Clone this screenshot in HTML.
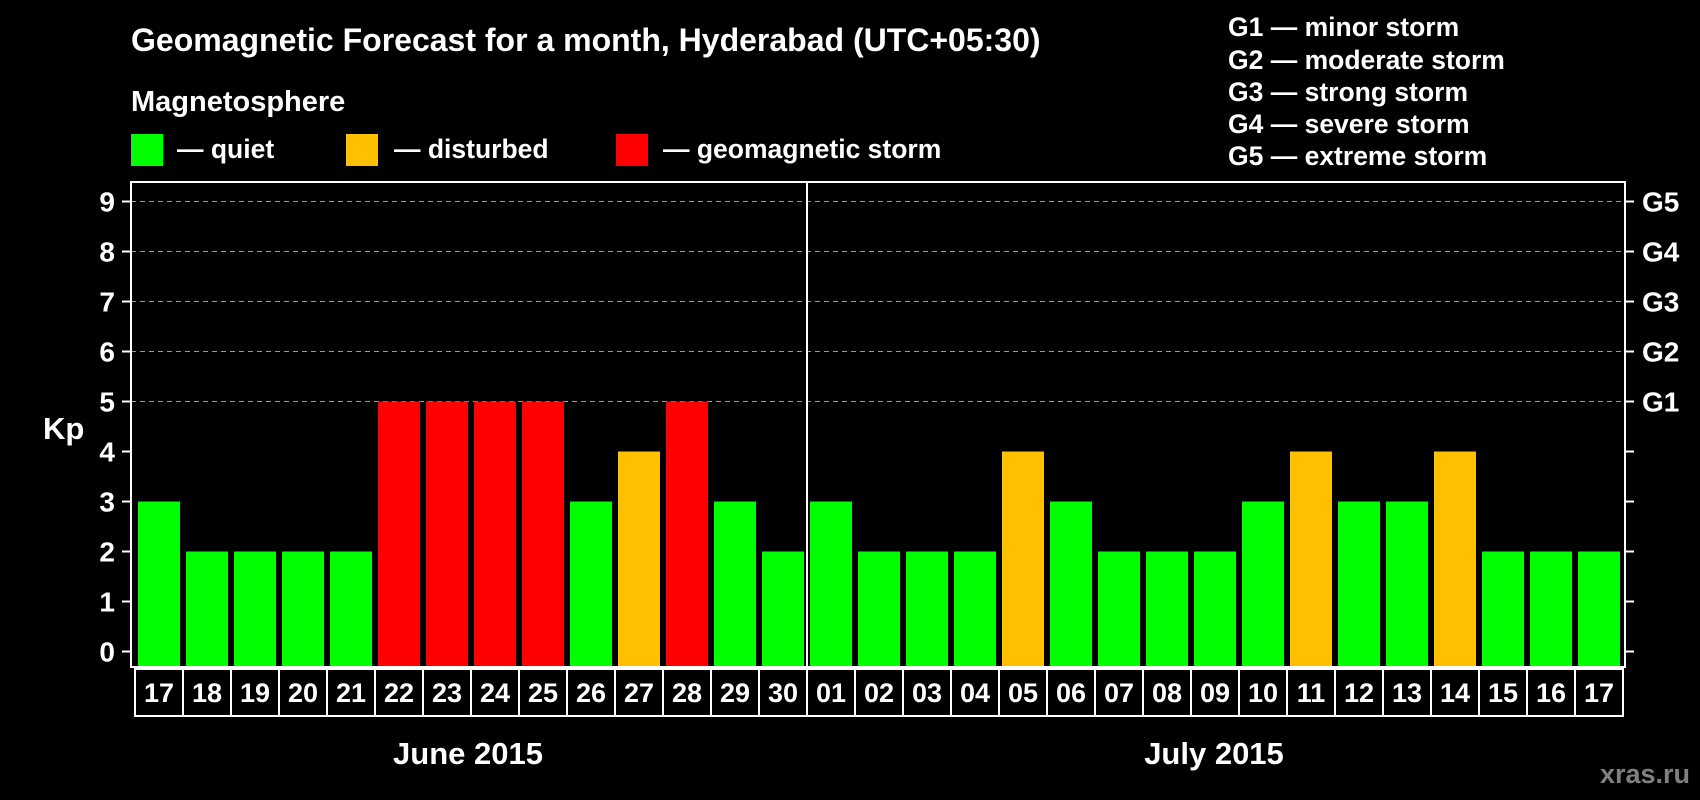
<!DOCTYPE html>
<html><head><meta charset="utf-8"><style>
html,body{margin:0;padding:0;background:#000;}
svg{display:block;font-family:"Liberation Sans",Arial,sans-serif;font-weight:bold;}
</style></head><body>
<svg id="c" width="1700" height="800" viewBox="0 0 1700 800">
<text x="131" y="51" fill="#fff" font-size="32">Geomagnetic Forecast for a month, Hyderabad (UTC+05:30)</text>
<text x="131" y="111" fill="#fff" font-size="29">Magnetosphere</text>
<rect x="131" y="134" width="32" height="32" fill="#00ff00"/>
<text x="177" y="158" fill="#fff" font-size="26.5">— quiet</text>
<rect x="346" y="134" width="32" height="32" fill="#ffc000"/>
<text x="394" y="158" fill="#fff" font-size="26.5">— disturbed</text>
<rect x="616" y="134" width="32" height="32" fill="#ff0000"/>
<text x="663" y="158" fill="#fff" font-size="26.5">— geomagnetic storm</text>
<g font-size="26.5" fill="#fff">
<text x="1228" y="36">G1 — minor storm</text>
<text x="1228" y="69">G2 — moderate storm</text>
<text x="1228" y="101">G3 — strong storm</text>
<text x="1228" y="133">G4 — severe storm</text>
<text x="1228" y="165">G5 — extreme storm</text>
</g>
<text x="43" y="439" fill="#fff" font-size="31">Kp</text>
<text x="468" y="764" fill="#fff" font-size="31" text-anchor="middle">June 2015</text>
<text x="1214" y="764" fill="#fff" font-size="31" text-anchor="middle">July 2015</text>
<text x="1690" y="783" fill="#808080" font-size="27" text-anchor="end">xras.ru</text>
<g id="plot"></g>
</svg>
<script>
const days=["17","18","19","20","21","22","23","24","25","26","27","28","29","30","01","02","03","04","05","06","07","08","09","10","11","12","13","14","15","16","17"];
const kp=[3,2,2,2,2,5,5,5,5,3,4,5,3,2,3,2,2,2,4,3,2,2,2,3,4,3,3,4,2,2,2];
const yTicks=[0,1,2,3,4,5,6,7,8,9];
const gLabels=["G1","G2","G3","G4","G5"];
const NS="http://www.w3.org/2000/svg";
const g=document.getElementById('plot');
function mk(t,a){const e=document.createElementNS(NS,t);for(const k in a)e.setAttribute(k,a[k]);g.appendChild(e);return e;}
const y0=651.5,unit=50,x0=138,pitch=48,bw=42,plotTop=182,plotBot=667;
const yS=v=>y0-v*unit;
const xS=i=>x0+i*pitch;
yTicks.forEach(v=>{
  const yy=yS(v);
  if(v>=5){const l=mk('line',{x1:131,x2:1625,y1:yy,y2:yy,stroke:'#999','stroke-dasharray':'5,4','stroke-width':1});
  
  }
  const t1=mk('line',{x1:122,x2:131,y1:yy,y2:yy,stroke:'#fff','stroke-width':2});
  
  
  const t2=mk('line',{x1:1625,x2:1634,y1:yy,y2:yy,stroke:'#fff','stroke-width':2});
  
  
  const tx=mk('text',{x:115,y:yy+10,fill:'#fff','font-size':28,'text-anchor':'end'});tx.textContent=v;
  
  
});
gLabels.forEach((s,i)=>{
  const tx=mk('text',{x:1642,y:yS(5+i)+10,fill:'#fff','font-size':28});tx.textContent=s;
  
  
});
kp.forEach((v,i)=>{
  const col=v>=5?'#ff0000':(v>=4?'#ffc000':'#00ff00');
  const r=mk('rect',{x:xS(i),y:yS(v),width:bw,height:plotBot-yS(v),fill:col});
  
  
  const b=mk('rect',{x:xS(i)-3,y:669,width:pitch,height:47,fill:'none',stroke:'#fff','stroke-width':2});
  
  
  const t=mk('text',{x:xS(i)+bw/2,y:702,fill:'#fff','font-size':27,'text-anchor':'middle'});t.textContent=days[i];
  
  
});
const fr=mk('rect',{x:131,y:plotTop,width:1494,height:plotBot-plotTop,fill:'none',stroke:'#fff','stroke-width':2});


const dv=mk('line',{x1:xS(14)-3,x2:xS(14)-3,y1:plotTop,y2:plotBot,stroke:'#fff','stroke-width':2});


</script>
</body></html>
